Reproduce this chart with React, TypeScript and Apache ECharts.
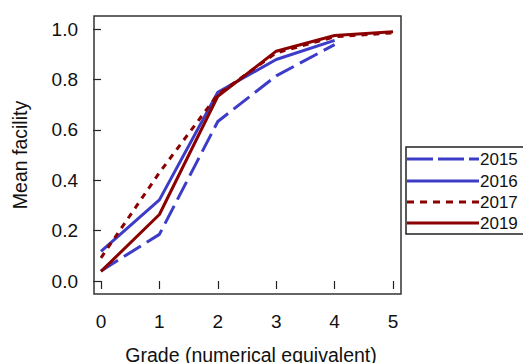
import React, { useEffect, useRef } from "react";
import * as echarts from "echarts";

const grades = [0, 1, 2, 3, 4, 5];
const seriesNames = ["2015", "2016", "2017", "2019"];
const s2015 = [0.04, 0.185, 0.633, 0.814, 0.938];
const s2016 = [0.118, 0.322, 0.749, 0.879, 0.955];
const s2017 = [0.092, 0.43, 0.74, 0.905, 0.969, 0.985];
const s2019 = [0.038, 0.264, 0.733, 0.912, 0.974, 0.989];
const xTitle = "Grade (numerical equivalent)";
const yTitle = "Mean facility";

const BLUE = "#3c3cc8";
const RED = "#8b0000";
const FONT = "'Liberation Sans', Arial, sans-serif";

export default function App() {
  const ref = useRef<HTMLDivElement>(null);
  useEffect(() => {
    if (!ref.current) return;
    const chart = echarts.init(ref.current, undefined, { renderer: "svg" });
    const values = [s2015, s2016, s2017, s2019];
    const styles = [
      { color: BLUE, type: [20, 7] as any },
      { color: BLUE, type: "solid" as any },
      { color: RED, type: [6, 6] as any },
      { color: RED, type: "solid" as any },
    ];
    const legendDash = [[26, 5], null, [7, 6], null];
    const legendY = [159, 181, 202, 223];
    const legendItems: any[] = [];
    seriesNames.forEach((n, i) => {
      legendItems.push({
        type: "line",
        shape: { x1: 407, y1: legendY[i], x2: 479, y2: legendY[i] },
        style: {
          stroke: styles[i].color,
          lineWidth: 3,
          lineDash: legendDash[i] || undefined,
        },
      });
      legendItems.push({
        type: "text",
        x: 480,
        y: legendY[i],
        style: {
          text: n,
          font: `17px ${FONT}`,
          fill: "#111",
          verticalAlign: "middle",
          align: "left",
        },
      });
    });
    chart.setOption({
      animation: false,
      grid: { left: 101, right: 130, top: 29, bottom: 82, containLabel: false },
      xAxis: {
        type: "value",
        min: 0,
        max: 5,
        interval: 1,
        offset: 13,
        axisLine: { show: false },
        axisTick: { show: true, length: 8, lineStyle: { color: "#222", width: 1.2 } },
        axisLabel: { margin: 18, fontSize: 19, color: "#111", fontFamily: FONT },
        splitLine: { show: false },
      },
      yAxis: {
        type: "value",
        min: 0,
        max: 1,
        interval: 0.2,
        offset: 7,
        axisLine: { show: false },
        axisTick: { show: true, length: 8, lineStyle: { color: "#222", width: 1.2 } },
        axisLabel: {
          margin: 16,
          fontSize: 19,
          color: "#111",
          fontFamily: FONT,
          formatter: (v: number) => v.toFixed(1),
        },
        splitLine: { show: false },
      },
      series: seriesNames.map((n, i) => ({
        name: n,
        type: "line",
        data: values[i].map((v, j) => [grades[j], v]),
        showSymbol: false,
        symbol: "none",
        clip: false,
        lineStyle: { color: styles[i].color, width: 3, type: styles[i].type },
        itemStyle: { color: styles[i].color },
      })),
      graphic: [
        {
          type: "rect",
          shape: { x: 94, y: 16, width: 307, height: 278 },
          style: { fill: "none", stroke: "#333", lineWidth: 1.5 },
          z: 10,
        },
        {
          type: "text",
          x: 251,
          y: 355,
          style: {
            text: xTitle,
            font: `19.5px ${FONT}`,
            fill: "#111",
            align: "center",
            verticalAlign: "middle",
          },
        },
        {
          type: "text",
          x: 20,
          y: 155,
          rotation: Math.PI / 2,
          style: {
            text: yTitle,
            font: `19.5px ${FONT}`,
            fill: "#111",
            align: "center",
            verticalAlign: "middle",
          },
        },
        {
          type: "rect",
          shape: { x: 406, y: 147, width: 140, height: 87 },
          style: { fill: "#fff", stroke: "#222", lineWidth: 1.5 },
        },
        ...legendItems,
      ],
    });
    return () => chart.dispose();
  }, []);
  return (
    <div
      ref={ref}
      style={{ position: "fixed", left: 0, top: 0, width: 523, height: 363, background: "#fff" }}
    />
  );
}
